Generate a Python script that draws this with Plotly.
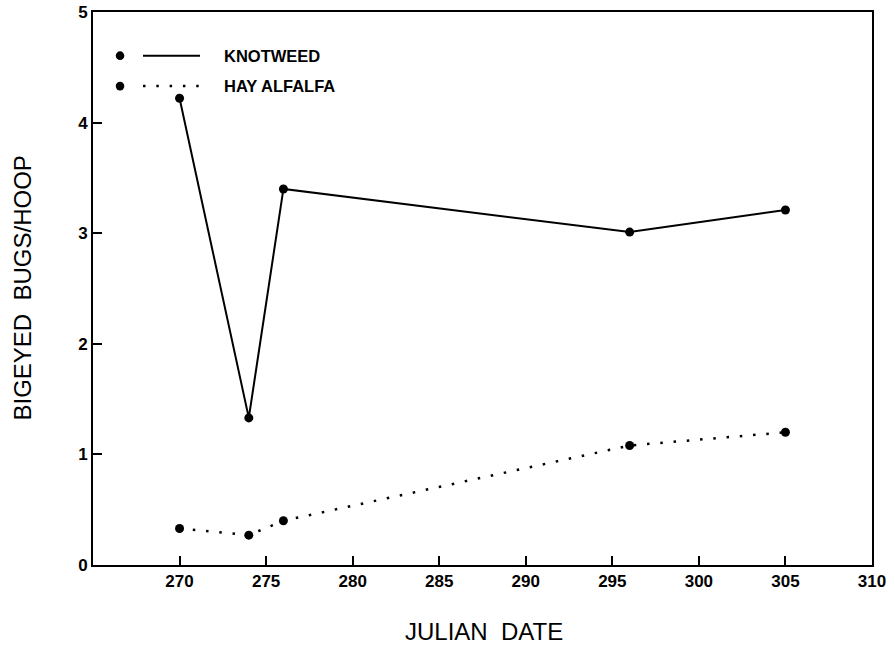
import plotly.graph_objects as go

julian_days = [270, 274, 276, 296, 305]
knotweed = [4.22, 1.33, 3.40, 3.01, 3.21]
hay_alfalfa = [0.33, 0.27, 0.40, 1.08, 1.20]
x_ticks = [270, 275, 280, 285, 290, 295, 300, 305, 310]
y_ticks = [0, 1, 2, 3, 4, 5]
series_names = ["KNOTWEED", "HAY ALFALFA"]

FONT = "Liberation Sans, Arial"
DOT = "2.5px,10.8px"

fig = go.Figure()
fig.add_trace(go.Scatter(x=julian_days, y=knotweed, mode="lines+markers", name=series_names[0],
                         line=dict(color="black", width=2),
                         marker=dict(color="black", size=9), showlegend=False))
fig.add_trace(go.Scatter(x=julian_days, y=hay_alfalfa, mode="lines+markers", name=series_names[1],
                         line=dict(color="black", width=2.5, dash=DOT),
                         marker=dict(color="black", size=9), showlegend=False))

# manual legend (paper coordinates)
leg_y = [0.921, 0.866]
for i, (nm, dash) in enumerate(zip(series_names, ["solid", DOT])):
    fig.add_shape(type="line", xref="paper", yref="paper", x0=0.0642, x1=0.1374, y0=leg_y[i], y1=leg_y[i],
                  line=dict(color="black", width=2 if dash == "solid" else 2.5, dash=dash))
    fig.add_shape(type="circle", xref="paper", yref="paper",
                  x0=0.0347 - 0.0055, x1=0.0347 + 0.0055, y0=leg_y[i] - 0.0078, y1=leg_y[i] + 0.0078,
                  fillcolor="black", line=dict(color="black", width=0))
    fig.add_annotation(xref="paper", yref="paper", x=0.1656, y=leg_y[i], text="<b>" + nm + "</b>",
                       showarrow=False, xanchor="left", yanchor="middle",
                       font=dict(family=FONT, size=16.5, color="black"))

# axis titles
fig.add_annotation(xref="paper", yref="paper", x=0.502, y=-0.121, text="JULIAN&nbsp;&nbsp;DATE",
                   showarrow=False, xanchor="center", yanchor="middle",
                   font=dict(family=FONT, size=24, color="black"))
fig.add_annotation(xref="paper", yref="paper", x=-0.0911, y=0.5, text="BIGEYED&nbsp;&nbsp;BUGS/HOOP",
                   showarrow=False, xanchor="center", yanchor="middle", textangle=-90,
                   font=dict(family=FONT, size=24, color="black"))

axis_common = dict(ticks="inside", ticklen=9, tickwidth=1.5, tickcolor="black",
                   showline=True, linecolor="black", linewidth=2, mirror=True,
                   showgrid=False, zeroline=False, automargin=False,
                   tickfont=dict(family=FONT, size=17, color="black"))

fig.update_layout(
    width=895, height=649,
    margin=dict(l=93, r=23, t=12, b=84),
    paper_bgcolor="white", plot_bgcolor="white",
    font=dict(family=FONT, color="black"),
    xaxis=dict(range=[265, 310], tickvals=x_ticks, ticktext=["<b>%d</b>" % v for v in x_ticks],
               **axis_common),
    yaxis=dict(range=[0, 5], tickvals=y_ticks, ticktext=["<b>%d</b>" % v for v in y_ticks],
               **axis_common),
)

fig.write_html("out.html", config={"displayModeBar": False},
               post_script="document.body.style.margin='0px';document.body.style.overflow='hidden';")
